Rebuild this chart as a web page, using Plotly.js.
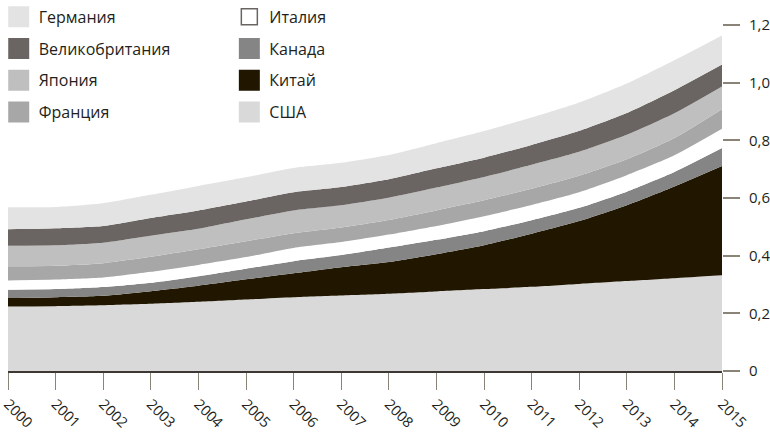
<!DOCTYPE html>
<html>
<head>
<meta charset="utf-8">
<script src="https://cdn.plot.ly/plotly-3.0.1.min.js"></script>
<style>
  html, body { margin: 0; padding: 0; background: #ffffff; }
  #chart { width: 770px; height: 433px; }
</style>
</head>
<body>
<div id="chart"></div>
<script>
// ---- data ----
const years = [2000, 2001, 2002, 2003, 2004, 2005, 2006, 2007, 2008, 2009, 2010, 2011, 2012, 2013, 2014, 2015];

const usa      = [0.224, 0.225, 0.228, 0.233, 0.240, 0.248, 0.256, 0.262, 0.268, 0.276, 0.284, 0.292, 0.302, 0.312, 0.322, 0.332];
const china    = [0.029, 0.031, 0.033, 0.044, 0.056, 0.070, 0.083, 0.098, 0.110, 0.129, 0.152, 0.184, 0.218, 0.263, 0.318, 0.379];
const canada   = [0.029, 0.028, 0.030, 0.029, 0.033, 0.037, 0.042, 0.042, 0.050, 0.050, 0.049, 0.047, 0.046, 0.047, 0.050, 0.062];
const italy    = [0.032, 0.033, 0.033, 0.038, 0.039, 0.040, 0.046, 0.045, 0.045, 0.048, 0.052, 0.053, 0.054, 0.057, 0.058, 0.067];
const france   = [0.049, 0.048, 0.050, 0.052, 0.054, 0.055, 0.051, 0.051, 0.051, 0.054, 0.055, 0.056, 0.057, 0.055, 0.060, 0.068];
const japan    = [0.071, 0.071, 0.071, 0.073, 0.071, 0.076, 0.079, 0.077, 0.077, 0.079, 0.081, 0.083, 0.083, 0.085, 0.086, 0.079];
const uk       = [0.058, 0.059, 0.058, 0.062, 0.064, 0.062, 0.063, 0.063, 0.064, 0.067, 0.067, 0.069, 0.073, 0.076, 0.080, 0.076];
const germany  = [0.076, 0.074, 0.079, 0.080, 0.085, 0.084, 0.084, 0.084, 0.084, 0.087, 0.092, 0.095, 0.098, 0.102, 0.104, 0.101];

const yTickVals = [0, 0.2, 0.4, 0.6, 0.8, 1.0, 1.2];
const yTickText = ['0', '0,2', '0,4', '0,6', '0,8', '1,0', '1,2'];

// stacking order (bottom -> top)
const series = [
  { name: 'США',            values: usa,     color: '#d9d9d9' },
  { name: 'Китай',          values: china,   color: '#211600' },
  { name: 'Канада',         values: canada,  color: '#858585' },
  { name: 'Италия',         values: italy,   color: '#ffffff' },
  { name: 'Франция',        values: france,  color: '#a8a7a7' },
  { name: 'Япония',         values: japan,   color: '#bfbfbf' },
  { name: 'Великобритания', values: uk,      color: '#6a6562' },
  { name: 'Германия',       values: germany, color: '#e3e3e3' }
];

// legend layout: left column / right column
const legendLeft  = ['Германия', 'Великобритания', 'Япония', 'Франция'];
const legendRight = ['Италия', 'Канада', 'Китай', 'США'];

const traces = [];
series.forEach(s => {
  traces.push({
    type: 'scatter',
    x: years,
    y: s.values,
    name: s.name,
    stackgroup: 'one',
    mode: 'none',
    fillcolor: s.color,
    line: { width: 0, shape: 'spline', smoothing: 0.6 },
    showlegend: false,
    hoverinfo: 'x+y+name'
  });
});

function legendTrace(name, legendId, rank) {
  const s = series.find(d => d.name === name);
  const isWhite = s.color === '#ffffff';
  return {
    type: 'scatter',
    x: [null], y: [null],
    mode: 'markers',
    name: name,
    legend: legendId,
    legendrank: rank,
    legendgroup: name,
    marker: {
      symbol: 'square',
      size: 16,
      color: s.color,
      line: { color: isWhite ? '#6a6562' : s.color, width: isWhite ? 1.5 : 5 }
    },
    hoverinfo: 'skip'
  };
}
legendLeft.forEach((n, i) => traces.push(legendTrace(n, 'legend', i + 1)));
legendRight.forEach((n, i) => traces.push(legendTrace(n, 'legend2', i + 1)));

const FONT = '"Open Sans", "Noto Sans", sans-serif';
const legendCommon = {
  orientation: 'v',
  xanchor: 'left',
  yanchor: 'top',
  bgcolor: 'rgba(0,0,0,0)',
  borderwidth: 0,
  tracegroupgap: 8,
  itemsizing: 'trace',
  font: { family: FONT, size: 16, color: '#231f20' }
};

const layout = {
  width: 770,
  height: 433,
  margin: { l: 8, r: 48, t: 25, b: 62, autoexpand: false },
  paper_bgcolor: '#ffffff',
  plot_bgcolor: '#ffffff',
  font: { family: FONT, size: 15, color: '#231f20' },
  showlegend: true,
  legend: Object.assign({}, legendCommon, { x: -0.013, y: 1.073 }),
  legend2: Object.assign({}, legendCommon, { x: 0.31, y: 1.073 }),
  xaxis: {
    range: [2000, 2015],
    tickmode: 'array',
    tickvals: years,
    ticktext: years.map(String),
    tickangle: 45,
    ticks: 'outside',
    ticklen: 17,
    tickwidth: 1,
    tickcolor: '#8a8378',
    showline: true,
    linecolor: '#3d3833',
    linewidth: 2,
    showgrid: false,
    zeroline: false,
    automargin: false,
    tickfont: { family: FONT, size: 14.5, color: '#231f20' },
    fixedrange: true
  },
  yaxis: {
    side: 'right',
    range: [0, 1.2],
    tickmode: 'array',
    tickvals: yTickVals,
    ticktext: yTickText,
    ticks: 'outside',
    ticklen: 17,
    tickwidth: 2,
    tickcolor: '#8a8378',
    ticklabelstandoff: 6,
    showline: false,
    showgrid: false,
    zeroline: false,
    automargin: false,
    tickfont: { family: FONT, size: 15, color: '#231f20' },
    fixedrange: true
  }
};

Plotly.newPlot('chart', traces, layout, { displayModeBar: false, staticPlot: true });
</script>
</body>
</html>
